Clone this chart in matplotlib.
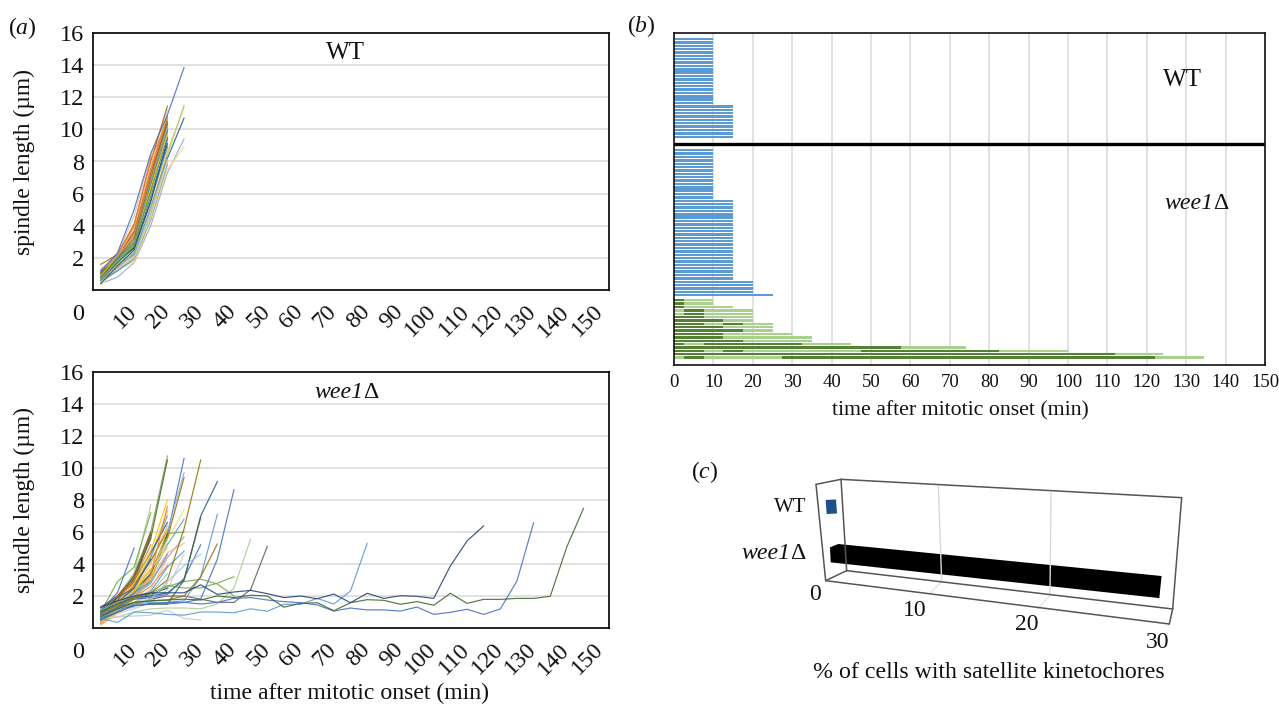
import matplotlib
matplotlib.use("Agg")
import matplotlib.pyplot as plt
from matplotlib.patches import Polygon
from matplotlib.transforms import ScaledTranslation

plt.rcParams['font.family'] = ['Liberation Serif', 'DejaVu Serif']
plt.rcParams['mathtext.fontset'] = 'custom'
plt.rcParams['mathtext.rm'] = 'Liberation Serif'
plt.rcParams['mathtext.it'] = 'Liberation Serif:italic'

W, H = 1279, 704
BLU, ORG, GRY, YEL, BL2, GRN = '#5B9BD5', '#ED7D31', '#A5A5A5', '#FFC000', '#4472C4', '#70AD47'
NVY, BRN, DGY, DYL, DBL, DGN = '#255E91', '#9E480E', '#636363', '#997300', '#264478', '#43682B'
LBL, LOR, LGY, LYL, LB2, LGN = '#9DC3E6', '#F4B183', '#C9C9C9', '#FFD966', '#8FAADC', '#A9D18E'

time_points = [0, 5, 10, 15, 20, 25, 30, 35, 40, 45, 50, 55, 60, 65, 70, 75, 80, 85, 90, 95,
               100, 105, 110, 115, 120, 125, 130, 135, 140, 145, 150]
time_labels = [10, 20, 30, 40, 50, 60, 70, 80, 90, 100, 110, 120, 130, 140, 150]
y_labels = [2, 4, 6, 8, 10, 12, 14, 16]

wt_lines = [
    ([1.0, 2.2, 4.6, 8.4, 11.2], LGY),
    ([1.6, 2.2, 4.1, 8.0, 11.45], DYL),
    ([1.3, 2.0, 3.5, 7.2, 10.6], LOR),
    ([1.1, 2.1, 3.6, 7.3, 10.4], BRN),
    ([0.9, 2.2, 3.7, 7.6, 10.7], ORG),
    ([1.0, 2.1, 3.9, 7.8, 10.9], LOR),
    ([1.2, 2.2, 4.0, 8.2, 10.4], ORG),
    ([0.8, 2.0, 3.4, 7.4, 10.8], ORG),
    ([0.4, 0.8, 1.7, 4.0, 7.3, 9.4], LB2),
    ([0.3, 1.3, 1.75, 4.3, 7.5, 8.9], LYL),
    ([0.6, 1.2, 2.0, 4.6, 8.2, 10.7], NVY),
    ([0.8, 1.5, 2.3, 5.0, 8.6, 11.4], YEL),
    ([0.5, 1.4, 2.2, 4.7, 8.4, 11.5], LGN),
    ([0.5, 1.2, 1.9, 4.4, 7.8], BLU),
    ([0.6, 1.3, 2.1, 4.6, 7.9], LBL),
    ([0.7, 1.3, 2.4, 4.9, 8.0], LBL),
    ([0.7, 1.3, 2.0, 4.5, 8.1], LYL),
    ([0.9, 1.6, 2.2, 5.2, 8.3], BLU),
    ([0.5, 1.5, 2.5, 5.4, 8.8], LYL),
    ([0.6, 1.4, 2.3, 5.6, 9.0], GRY),
    ([1.0, 1.7, 2.6, 5.6, 8.9], BLU),
    ([0.7, 1.6, 2.4, 5.8, 9.2], LGN),
    ([0.8, 1.9, 2.6, 5.5, 9.4], DBL),
    ([0.4, 1.5, 2.5, 5.9, 9.1], NVY),
    ([0.9, 1.8, 2.8, 6.0, 9.6], LGY),
    ([1.1, 1.9, 2.9, 6.2, 9.5], BL2),
    ([0.6, 1.7, 2.7, 6.3, 9.9], DGN),
    ([0.8, 2.0, 2.9, 6.1, 9.8], GRN),
    ([0.7, 1.8, 2.8, 6.5, 10.1], GRN),
    ([1.0, 2.0, 3.0, 6.6, 10.3], DGN),
    ([0.9, 2.1, 3.1, 6.4, 9.7], YEL),
    ([0.6, 1.9, 3.0, 6.7, 10.0], BLU),
    ([1.2, 2.1, 3.3, 6.9, 10.2], GRY),
    ([0.8, 2.0, 3.2, 7.0, 10.5], DYL),
    ([1.2, 2.3, 5.0, 8.5, 10.9, 13.85], BL2),
]

wee1_long = [
    ([0.6, 0.35, 1.0, 0.95, 0.85, 0.8, 1.0, 1.0, 0.95, 1.2, 1.05, 1.48, 1.48, 1.85, 1.5, 2.31, 5.29], BLU),
    ([0.6, 1.0, 1.4, 1.5, 1.6, 1.6, 1.5, 1.6, 1.85, 1.9, 1.75, 1.65, 1.58, 1.44, 1.06, 1.25, 1.13, 1.13,
      1.06, 1.31, 0.85, 0.98, 1.17, 0.85, 1.19, 2.94, 6.58], BL2),
    ([0.7, 1.2, 1.6, 1.7, 1.75, 1.8, 1.75, 2.0, 1.9, 2.05, 2.0, 1.3, 1.54, 1.58, 1.08, 1.58, 1.77, 1.73,
      1.48, 1.65, 1.42, 2.17, 1.54, 1.79, 1.79, 1.85, 1.85, 1.98, 5.08, 7.48], DGN),
    ([1.3, 1.7, 2.0, 2.2, 2.2, 2.2, 2.7, 2.1, 2.25, 2.35, 2.15, 1.9, 2.0, 1.83, 2.12, 1.58, 2.17, 1.85,
      2.02, 1.98, 1.85, 3.88, 5.44, 6.38], DBL),
]
wee1_mid = [
    ([0.8, 1.1, 1.4, 1.8, 2.0, 2.0, 1.8, 1.6, 1.6, 2.4, 5.1], DGY),
    ([0.5, 0.7, 1.0, 1.2, 1.25, 1.25, 1.2, 1.5, 2.5, 5.55], LGN),
    ([1.0, 1.5, 1.9, 2.2, 2.65, 2.5, 2.5, 2.8, 3.2], GRN),
    ([1.1, 1.6, 1.8, 2.0, 2.6, 2.9, 3.05, 2.75, 2.0], GRN),
    ([0.7, 1.1, 1.4, 1.5, 1.5, 1.6, 1.8, 4.3, 8.65], BL2),
    ([0.5, 1.2, 1.5, 1.6, 1.6, 1.7, 3.2, 7.1], BLU),
    ([1.0, 1.5, 1.9, 2.0, 2.2, 3.0, 7.0, 9.15], NVY),
    ([0.7, 1.3, 1.6, 1.7, 1.75, 2.0, 3.2, 5.25], DYL),
    ([0.9, 1.4, 1.9, 2.2, 3.0, 6.2, 10.5], DYL),
    ([0.6, 0.7, 0.75, 0.8, 1.1, 0.6, 0.5], LGY),
    ([0.8, 1.3, 1.8, 1.9, 2.1, 3.1, 5.2], BL2),
    ([0.5, 1.0, 1.4, 1.5, 1.5, 3.0, 6.9], DGN),
    ([0.7, 1.1, 1.3, 1.8, 2.9, 3.9, 4.6], LBL),
]
wee1_25 = [
    ([1.0, 1.6, 2.1, 3.0, 5.8, 10.6], BL2),
    ([0.7, 1.4, 2.0, 2.9, 6.0, 9.7], LB2),
    ([0.5, 1.2, 2.2, 3.4, 5.6, 9.4], DYL),
    ([0.9, 1.5, 2.5, 3.6, 5.5, 7.4], LYL),
    ([1.1, 1.7, 2.3, 3.2, 5.2, 6.8], BLU),
    ([0.8, 1.5, 2.4, 3.4, 5.9, 6.0], GRN),
    ([0.6, 1.3, 2.2, 3.0, 4.4, 5.7], GRY),
    ([0.4, 1.2, 2.1, 3.1, 4.7, 5.3], LOR),
    ([1.0, 1.6, 1.9, 2.3, 3.8, 4.8], BLU),
    ([0.6, 0.9, 1.2, 1.6, 2.4, 4.6], LGY),
]
wee1_20 = [
    ([0.9, 1.9, 3.4, 6.0, 10.75], GRN),
    ([0.7, 1.7, 3.1, 5.6, 10.5], DGN),
    ([0.4, 1.5, 2.9, 4.8, 8.0], YEL),
    ([0.8, 1.7, 2.7, 4.5, 7.3], YEL),
    ([0.6, 1.4, 2.6, 4.4, 7.0], BLU),
    ([1.1, 1.9, 3.0, 4.7, 6.6], NVY),
    ([0.3, 1.4, 2.4, 4.0, 6.4], LOR),
    ([0.5, 1.6, 2.7, 4.2, 6.1], DYL),
    ([0.7, 1.3, 2.2, 3.4, 5.9], DGN),
    ([1.2, 1.8, 2.6, 3.6, 5.6], GRY),
    ([0.4, 1.2, 2.3, 3.2, 5.3], LGN),
    ([0.6, 1.5, 2.5, 3.7, 5.0], LYL),
    ([0.9, 1.3, 2.0, 2.8, 4.6], BLU),
    ([0.3, 1.1, 1.9, 2.6, 3.9], ORG),
    ([0.5, 1.0, 1.6, 2.2, 3.4], LBL),
    ([0.8, 1.2, 1.5, 1.9, 2.8], LGY),
    ([1.0, 1.5, 1.9, 2.1, 2.5], DBL),
    ([0.2, 1.0, 1.8, 3.0, 6.2], YEL),
    ([0.3, 1.2, 2.0, 3.3, 7.6], ORG),
    ([0.2, 0.9, 1.5, 2.4, 4.4], LOR),
]
wee1_15 = [
    ([1.2, 2.0, 3.4, 7.7], LGN),
    ([1.0, 2.9, 3.8, 7.2], GRN),
    ([1.3, 2.0, 3.2, 6.0], BRN),
    ([0.8, 1.9, 2.9, 5.8], DGN),
    ([0.5, 1.7, 3.3, 5.6], DGY),
    ([0.7, 1.8, 3.0, 5.2], ORG),
    ([0.4, 1.5, 2.8, 4.8], YEL),
    ([1.0, 1.6, 2.5, 4.3], NVY),
    ([0.6, 1.4, 2.3, 3.7], YEL),
    ([0.3, 1.2, 2.0, 3.2], LOR),
    ([0.9, 1.5, 2.2, 2.9], BLU),
    ([0.5, 1.0, 1.5, 2.1], LGN),
]
wee1_10 = [
    ([1.1, 2.2, 5.0], BL2),
    ([0.7, 1.6, 2.8], LOR),
    ([1.3, 1.9, 2.5], DGY),
]

wt_row_lengths = [10] * 20 + [15] * 10
wee1_blue_lengths = [10] * 15 + [15] * 24 + [20] * 4 + [25]
# alternating dark / light green segment widths for each row
wee1_green_segments = [
    [2.5, 7.5], [2.5, 7.5], [2.5, 12.5], [0, 2.5, 5, 12.5], [0, 2.5, 5, 12.5], [7.5, 12.5],
    [12.5, 7.5], [7.5, 5, 5, 7.5], [12.5, 12.5], [17.5, 7.5], [12.5, 17.5], [12.5, 22.5],
    [17.5, 17.5], [2.5, 5, 25, 12.5], [57.5, 16.5], [7.5, 5, 5, 30, 35, 17.5], [112, 12],
    [0, 2.5, 5, 20, 94.5, 12.5],
]
b_ticks = list(range(0, 151, 10))

sat_categories = ['WT', 'wee1']
sat_values = [0.9, 29.0]
sat_ticks = [0, 10, 20, 30]

fig = plt.figure(figsize=(W / 100, H / 100), dpi=100)


def add_axes(l, t, r, b):
    return fig.add_axes([l / W, 1 - b / H, (r - l) / W, (b - t) / H])


def line_panel(ax, groups):
    for s in ('top', 'bottom', 'left', 'right'):
        ax.spines[s].set_linewidth(1.3)
        ax.spines[s].set_color('#111111')
    ax.set_xlim(-2.5, 152.5)
    ax.set_ylim(0, 16)
    ax.set_yticks(y_labels)
    ax.yaxis.grid(True, color='#D9D9D9', lw=1.1)
    ax.set_axisbelow(True)
    ax.tick_params(axis='y', length=0, pad=6, labelsize=17.5, labelcolor='#111111')
    ax.set_xticks(time_labels)
    ax.set_xticklabels([str(v) for v in time_labels], rotation=45, ha='right', va='top', fontsize=17,
                       color='#111111')
    ax.tick_params(axis='x', length=0, pad=8)
    off = ScaledTranslation(7 / 100, 0, fig.dpi_scale_trans)
    for lab in ax.get_xticklabels():
        lab.set_transform(lab.get_transform() + off)
    for grp in groups:
        for vals, col in grp:
            ax.plot(time_points[:len(vals)], vals, color=col, lw=0.85, alpha=0.9, solid_joinstyle='round')
    ax.text(-0.016, -1.5, '0', transform=ax.get_yaxis_transform(), ha='right', va='center',
            fontsize=17.5, color='#111111')


ax1 = add_axes(92.5, 33, 608.5, 290)
line_panel(ax1, [wt_lines])
ax2 = add_axes(92.5, 372, 608.5, 628)
line_panel(ax2, [wee1_25, wee1_20, wee1_15, wee1_10, wee1_mid, wee1_long])

# panel b
axb = add_axes(674, 33, 1265, 365)
axb.set_xlim(0, 150)
axb.set_ylim(96.7, -1.78)
axb.set_xticks(b_ticks)
axb.set_yticks([])
axb.xaxis.grid(True, color='#DDDDDD', lw=1.2)
axb.set_axisbelow(True)
axb.tick_params(axis='x', length=0, pad=6.5, labelsize=13.5, labelcolor='#111111')
for s in ('top', 'bottom', 'left', 'right'):
    axb.spines[s].set_linewidth(1.2)
    axb.spines[s].set_color('#111111')
BAR_H = 0.72
axb.barh(range(len(wt_row_lengths)), wt_row_lengths, height=BAR_H, color='#5B9BD5')
r0 = len(wt_row_lengths) + 3
axb.barh(range(r0, r0 + len(wee1_blue_lengths)), wee1_blue_lengths, height=BAR_H, color='#5B9BD5')
r1 = r0 + len(wee1_blue_lengths) + 0.5
for i, segs in enumerate(wee1_green_segments):
    left = 0
    for j, w in enumerate(segs):
        col = '#548235' if j % 2 == 0 else '#A9D18E'
        axb.barh(r1 + i, w, left=left, height=BAR_H, color=col)
        left += w
axb.axhline(31.25, color='black', lw=2.4)

# overlay for free text and the pseudo-3D panel c
ov = fig.add_axes([0, 0, 1, 1], zorder=5)
ov.set_xlim(0, W)
ov.set_ylim(H, 0)
ov.axis('off')
ov.patch.set_alpha(0)


def T(x, y, s, size=15, **kw):
    kw.setdefault('ha', 'center')
    kw.setdefault('va', 'center')
    return ov.text(x, y, s, fontsize=size, color='#111111', **kw)


def wee1_label(x_left, y, size=17.2):
    t = ov.text(x_left, y, 'wee1', fontsize=size, style='italic', color='#111111', ha='left',
                va='baseline')
    ov.annotate('Δ', xy=(1, 0), xycoords=t, fontsize=size, color='#111111', ha='left', va='bottom',
                annotation_clip=False)


T(22, 28, r'($\mathit{a}$)', 17)
T(641, 26, r'($\mathit{b}$)', 17)
T(705, 472, r'($\mathit{c}$)', 17)
T(24, 162, 'spindle length (µm)', 16.9, rotation=90)
T(24, 500, 'spindle length (µm)', 16.9, rotation=90)
T(350, 693, 'time after mitotic onset (min)', 17.1)
T(345, 53, 'WT', 18)
wee1_label(314, 398)
T(1182, 80, 'WT', 18)
wee1_label(1164, 209)
T(960, 411, 'time after mitotic onset (min)', 15.7)


# panel c: perspective frame, values mapped along the axis by fraction of 30
def Z(zx, zy):
    return 680 + zx / 3, 450 + zy / 3


def lerp(a, b, f):
    return a[0] + (b[0] - a[0]) * f, a[1] + (b[1] - a[1]) * f


def seg(a, b, col='#555555', lw=1.1):
    ov.plot([a[0], b[0]], [a[1], b[1]], color=col, lw=lw, solid_capstyle='round')


bk_tl, bk_tr = Z(483, 88), Z(1505, 143)
bk_bl, bk_br = Z(500, 362), Z(1478, 477)
fr_tl, fr_bl, fr_br = Z(408, 103), Z(437, 392), Z(1468, 522)
for wt, wb, fb in (((775, 108), (785, 395), (748, 431)), ((1113, 128), (1110, 435), (1072, 478))):
    seg(Z(*wt), Z(*wb), '#D9D9D9', 1.0)
    seg(Z(*wb), Z(*fb), '#E4E4E4', 1.0)
for a, b in ((bk_tl, bk_tr), (bk_tr, bk_br), (bk_bl, bk_br), (bk_tl, bk_bl), (fr_tl, bk_tl),
             (fr_tl, fr_bl), (fr_bl, bk_bl), (fr_bl, fr_br), (fr_br, bk_br)):
    seg(a, b)

# bar geometry at value 0 and at value 30
wt_0 = [Z(437, 150), Z(440, 192)]
wt_30 = [Z(1470, 97), Z(1475, 140)]
wee_top0, wee_back0, wee_bot0 = Z(450, 292), Z(475, 282), Z(452, 337)
wee_top30, wee_bot30 = Z(1479, 381), Z(1472, 448)
f = sat_values[0] / 30
ov.add_patch(Polygon([wt_0[0], lerp(wt_0[0], wt_30[0], f), lerp(wt_0[1], wt_30[1], f), wt_0[1]],
                     closed=True, fc='#1F4E8C', ec='none'))
f = sat_values[1] / 30
ov.add_patch(Polygon([wee_top0, wee_back0, lerp(wee_top0, wee_top30, f), lerp(wee_bot0, wee_bot30, f), wee_bot0],
                     closed=True, fc='black', ec='none'))

T(790, 508, 'WT', 15)
wee1_label(741, 559)
for v, (x, y) in zip(sat_ticks, ((815, 594), (915, 611), (1027, 624), (1158, 642))):
    T(x, y, str(v), 17)
T(989, 672, '% of cells with satellite kinetochores', 17.2)

fig.savefig('out.png', dpi=100)
